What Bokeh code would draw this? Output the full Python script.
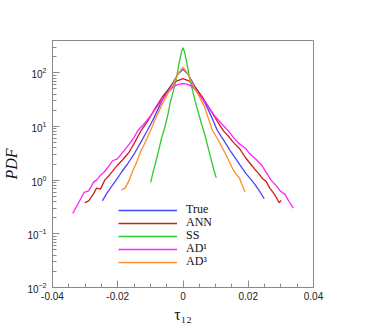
from bokeh.plotting import figure
from bokeh.models import FixedTicker, LogTicker, Legend, LegendItem
from bokeh.embed import file_html
from bokeh.resources import INLINE

# ---- data ----
true_x = [-0.0247, -0.0235, -0.0216, -0.0200, -0.0187, -0.0170, -0.0148, -0.0130, -0.0109, -0.0090,
          -0.0075, -0.0055, -0.0035, -0.0015, 0.0, 0.0015, 0.0035, 0.0055, 0.0075, 0.0090,
          0.0105, 0.0125, 0.0144, 0.0160, 0.0175, 0.0192, 0.0210, 0.0222, 0.0235, 0.0249]
true_y = [0.41, 0.55, 0.81, 1.1, 1.45, 2.0, 3.2, 5.0, 8.5, 14,
          22, 40, 60, 95, 116, 95, 58, 38, 22, 14,
          8.5, 5.5, 3.6, 2.6, 1.9, 1.35, 1.0, 0.81, 0.62, 0.45]

ann_x = [-0.0301, -0.0289, -0.0275, -0.0265, -0.0253, -0.0240, -0.0225, -0.0201, -0.0185, -0.0167,
         -0.0150, -0.0128, -0.0110, -0.0085, -0.0060, -0.0040, -0.0020, 0.0, 0.0020, 0.0040,
         0.0060, 0.0085, 0.0105, 0.0124, 0.0140, 0.0155, 0.0173, 0.0190, 0.0207, 0.0220,
         0.0231, 0.0245, 0.0255, 0.0266, 0.0280, 0.0295, 0.0301]
ann_y = [0.38, 0.41, 0.55, 0.71, 0.68, 1.0, 1.25, 1.9, 2.4, 3.2,
         4.8, 8.5, 12, 22, 38, 52, 70, 78, 70, 50,
         35, 20, 12.5, 8.3, 6.5, 5.0, 3.9, 2.7, 2.0, 1.6,
         1.35, 1.05, 0.95, 0.71, 0.55, 0.38, 0.42]

ss_x = [-0.0099, -0.0092, -0.0085, -0.0075, -0.0065, -0.0055, -0.0047, -0.0039, -0.0030, -0.0021,
        -0.0012, -0.0005, 0.0, 0.0005, 0.0012, 0.0021, 0.0030, 0.0037, 0.0047, 0.0057,
        0.0066, 0.0075, 0.0085, 0.0094, 0.0102]
ss_y = [0.91, 1.4, 2.0, 3.5, 6.3, 10, 16, 28, 45, 75,
        150, 240, 295, 240, 150, 75, 45, 30, 18, 11,
        7.4, 4.5, 2.6, 1.6, 1.1]

ad1_x = [-0.0338, -0.0318, -0.0303, -0.0289, -0.0274, -0.0265, -0.0252, -0.0240, -0.0225, -0.0216,
         -0.0201, -0.0185, -0.0167, -0.0150, -0.0138, -0.0120, -0.0099, -0.0085, -0.0070, -0.0050,
         -0.0030, -0.0015, 0.0, 0.0015, 0.0030, 0.0050, 0.0070, 0.0085, 0.0100, 0.0120,
         0.0139, 0.0155, 0.0170, 0.0192, 0.0205, 0.0225, 0.0241, 0.0255, 0.0270, 0.0285,
         0.0299, 0.0312, 0.0325, 0.0338]
ad1_y = [0.24, 0.40, 0.59, 0.63, 0.92, 1.0, 1.25, 1.45, 1.9, 2.3,
         2.5, 3.3, 4.5, 6.3, 8.5, 11, 16, 21, 28, 40,
         55, 61, 63, 61, 54, 39, 27, 20, 15, 11,
         8.3, 6.2, 4.9, 3.9, 3.1, 2.4, 1.9, 1.4, 1.0, 0.80,
         0.62, 0.55, 0.40, 0.30]

ad3_x = [-0.0189, -0.0177, -0.0165, -0.0157, -0.0143, -0.0128, -0.0115, -0.0099, -0.0082, -0.0065,
         -0.0048, -0.0030, -0.0013, 0.0, 0.0013, 0.0030, 0.0048, 0.0065, 0.0078, 0.0090,
         0.0110, 0.0129, 0.0142, 0.0154, 0.0165, 0.0173, 0.0180, 0.0190]
ad3_y = [0.66, 0.71, 1.0, 1.35, 2.1, 3.6, 5.2, 8.5, 15, 25,
         40, 62, 100, 127, 100, 60, 38, 24, 14, 8.5,
         5.3, 3.2, 2.2, 1.55, 1.25, 1.1, 0.85, 0.61]

series_names = ["True", "ANN", "SS", "AD\u00b9", "AD\u00b3"]
series_colors = ["#4646ff", "#cc1f1f", "#2ccc2c", "#ff22ff", "#ff8c26"]

xtick_values = [-0.04, -0.02, 0.0, 0.02, 0.04]
xtick_labels = ["-0.04", "-0.02", "0", "0.02", "0.04"]
xminor_values = [-0.035, -0.03, -0.025, -0.015, -0.01, -0.005,
                 0.005, 0.01, 0.015, 0.025, 0.03, 0.035]

# ---- figure ----
p = figure(width=350, height=325, x_range=(-0.04, 0.04), y_range=(0.01, 400),
           y_axis_type="log", output_backend="svg", toolbar_location=None,
           min_border_left=39, min_border_right=37, min_border_top=40, min_border_bottom=36)
p.background_fill_color = "white"
p.border_fill_color = "white"
p.outline_line_color = "#8a8a8a"
p.outline_line_width = 1
p.xgrid.visible = False
p.ygrid.visible = False

xs = [true_x, ann_x, ss_x, ad1_x, ad3_x]
ys = [true_y, ann_y, ss_y, ad1_y, ad3_y]
renderers = []
for x, y, c in zip(xs, ys, series_colors):
    renderers.append(p.line(x, y, line_color=c, line_width=1.3))

xa = p.xaxis[0]
xa.ticker = FixedTicker(ticks=xtick_values, minor_ticks=xminor_values)
xa.major_label_overrides = {v: s for v, s in zip(xtick_values, xtick_labels)}
ya = p.yaxis[0]
ya.ticker = LogTicker(num_minor_ticks=10)

for ax in (xa, ya):
    ax.axis_line_color = "#8a8a8a"
    ax.major_tick_line_color = "#8a8a8a"
    ax.minor_tick_line_color = "#8a8a8a"
    ax.major_tick_in = 7
    ax.major_tick_out = 0
    ax.minor_tick_in = 4
    ax.minor_tick_out = 0
    ax.major_label_text_font = "Liberation Sans"
    ax.major_label_text_font_size = "10px"
    ax.major_label_text_color = "#222222"
    ax.axis_label_text_font = "Liberation Serif"
    ax.axis_label_text_font_size = "16px"
    ax.axis_label_text_color = "#111111"

xa.axis_label = "\u03c4\u2081\u2082"
xa.axis_label_text_font_style = "normal"
xa.major_label_standoff = 4
xa.axis_label_standoff = 3
ya.axis_label = "PDF"
ya.axis_label_text_font_style = "italic"
ya.major_label_standoff = 6
ya.axis_label_standoff = 4

# one single-item legend per row, so rows can sit 13px apart like the reference
row_offsets = [70, 57, 44, 31, 18]
for n, r, yoff in zip(series_names, renderers, row_offsets):
    lg = Legend(items=[LegendItem(label=n, renderers=[r])], location=(66, yoff))
    lg.border_line_color = None
    lg.background_fill_alpha = 0
    lg.padding = 0
    lg.margin = 0
    lg.spacing = 0
    lg.glyph_width = 59
    lg.glyph_height = 12
    lg.label_height = 12
    lg.label_standoff = 9
    lg.label_text_font = "Liberation Serif"
    lg.label_text_font_size = "12px"
    lg.label_text_line_height = 1.0
    lg.label_text_color = "#111111"
    p.add_layout(lg, "center")

open("out.html", "w").write(file_html(p, INLINE))
